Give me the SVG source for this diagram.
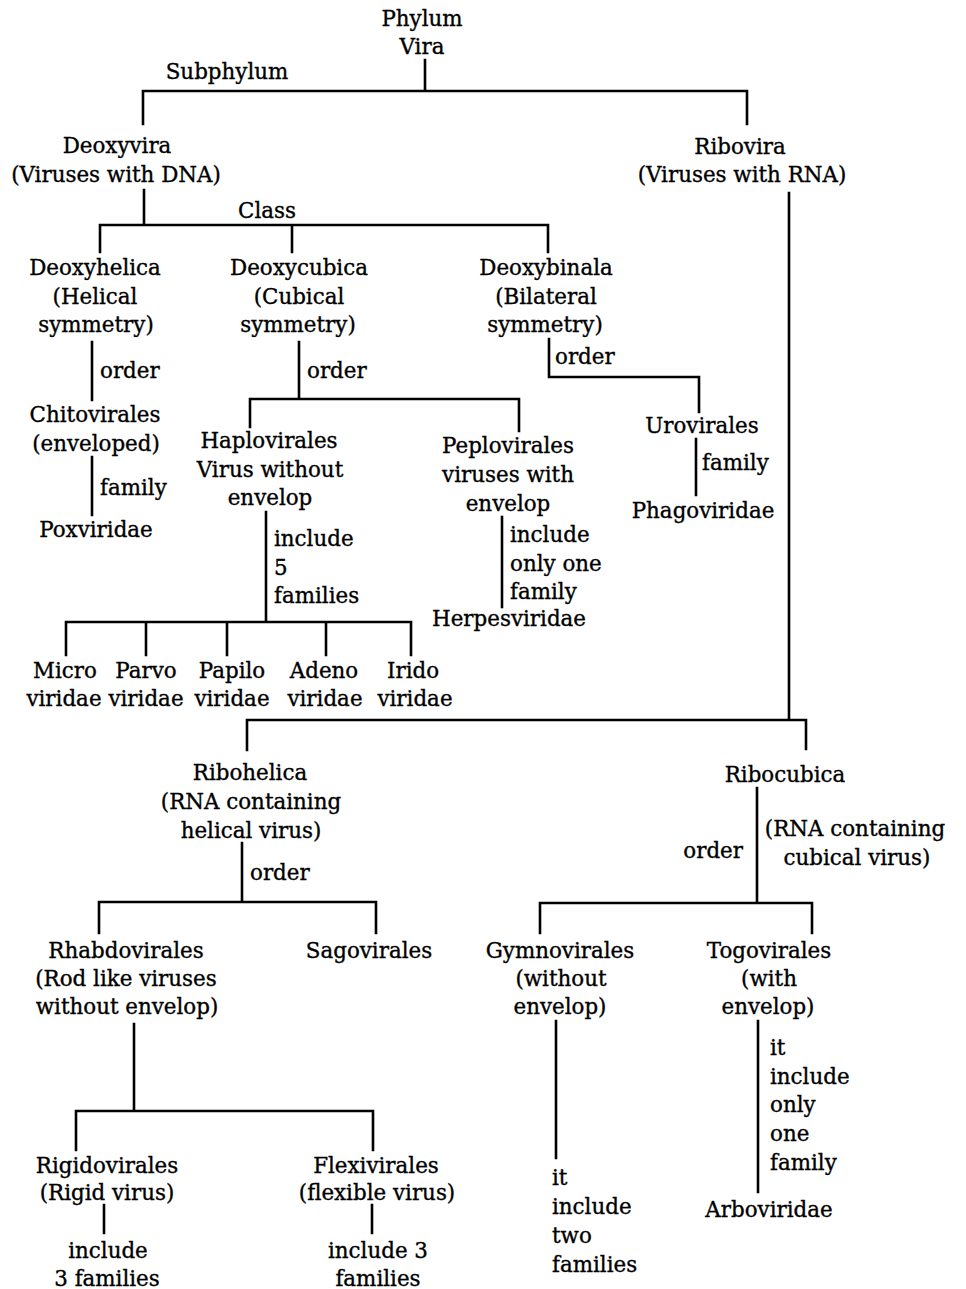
<svg xmlns="http://www.w3.org/2000/svg" width="966" height="1289" viewBox="0 0 966 1289">
<style>
text{font-family:"DejaVu Serif","Liberation Serif",serif;font-size:21.4px;fill:#000;stroke:#000;stroke-width:0.35}
.c{text-anchor:middle}
.e{text-anchor:end}
.ln{stroke:#000;stroke-width:2.6;fill:none;stroke-linecap:square}
</style>
<rect width="966" height="1289" fill="#fff"/>
<g id="connectors" class="ln">
<path d="M425 60V91M143 124V91H747V124"/>
<path d="M144 190V225M100 252V225H548V252M292 225V252"/>
<path d="M92 342V400M92 457V515"/>
<path d="M299 342V399M250 427V399H519V431"/>
<path d="M549 339V377H699V412M696 439V495"/>
<path d="M266 512V622M66 655V622H411V655M146 622V655M227 622V655M326 622V655"/>
<path d="M502 517V607"/>
<path d="M789 193V720M247 750V720H806V749"/>
<path d="M242 843V902M99 933V902H376V933"/>
<path d="M757 788V903M540 933V903H812V933"/>
<path d="M134 1024V1111M76 1150V1111H373V1150"/>
<path d="M104 1205V1233M372 1205V1233"/>
<path d="M556 1021V1158M758 1021V1192"/>
</g>
<g id="labels">
<text class="c" x="227" y="79">Subphylum</text>
<text class="c" x="267" y="218">Class</text>
<text x="100" y="378">order</text>
<text x="100" y="495">family</text>
<text x="307" y="378">order</text>
<text x="274" y="546">include</text>
<text x="274" y="575">5</text>
<text x="274" y="603">families</text>
<text x="510" y="542">include</text>
<text x="510" y="571">only one</text>
<text x="510" y="599">family</text>
<text x="555" y="364">order</text>
<text x="702" y="470">family</text>
<text x="250" y="880">order</text>
<text class="e" x="743" y="858">order</text>
<text class="c" x="855" y="836">(RNA containing</text>
<text class="c" x="857" y="865">cubical virus)</text>
<text x="552" y="1185">it</text>
<text x="552" y="1214">include</text>
<text x="552" y="1243">two</text>
<text x="552" y="1272">families</text>
<text x="770" y="1055">it</text>
<text x="770" y="1084">include</text>
<text x="770" y="1112">only</text>
<text x="770" y="1141">one</text>
<text x="770" y="1170">family</text>
<text class="c" x="108" y="1258">include</text>
<text class="c" x="107" y="1286">3 families</text>
<text class="c" x="378" y="1258">include 3</text>
<text class="c" x="378" y="1286">families</text>
</g>
<g id="phylum"><text class="c" x="422" y="26">Phylum</text><text class="c" x="422" y="54">Vira</text></g>
<g id="deoxyvira"><text class="c" x="117" y="153">Deoxyvira</text><text class="c" x="116" y="182">(Viruses with DNA)</text></g>
<g id="ribovira"><text class="c" x="740" y="154">Ribovira</text><text class="c" x="742" y="182">(Viruses with RNA)</text></g>
<g id="deoxyhelica"><text class="c" x="95" y="275">Deoxyhelica</text><text class="c" x="95" y="304">(Helical</text><text class="c" x="96" y="332">symmetry)</text></g>
<g id="chitovirales"><text class="c" x="95" y="422">Chitovirales</text><text class="c" x="96" y="451">(enveloped)</text></g>
<g id="poxviridae"><text class="c" x="96" y="537">Poxviridae</text></g>
<g id="deoxycubica"><text class="c" x="299" y="275">Deoxycubica</text><text class="c" x="299" y="304">(Cubical</text><text class="c" x="298" y="332">symmetry)</text></g>
<g id="deoxybinala"><text class="c" x="546" y="275">Deoxybinala</text><text class="c" x="546" y="304">(Bilateral</text><text class="c" x="545" y="332">symmetry)</text></g>
<g id="haplovirales"><text class="c" x="269" y="448">Haplovirales</text><text class="c" x="270" y="477">Virus without</text><text class="c" x="270" y="505">envelop</text></g>
<g id="peplovirales"><text class="c" x="508" y="453">Peplovirales</text><text class="c" x="508" y="482">viruses with</text><text class="c" x="508" y="511">envelop</text></g>
<g id="herpesviridae"><text class="c" x="509" y="626">Herpesviridae</text></g>
<g id="urovirales"><text class="c" x="702" y="433">Urovirales</text></g>
<g id="phagoviridae"><text class="c" x="703" y="518">Phagoviridae</text></g>
<g id="microviridae"><text class="c" x="65" y="678">Micro</text><text class="c" x="64" y="706">viridae</text></g>
<g id="parvoviridae"><text class="c" x="146" y="678">Parvo</text><text class="c" x="146" y="706">viridae</text></g>
<g id="papiloviridae"><text class="c" x="232" y="678">Papilo</text><text class="c" x="232" y="706">viridae</text></g>
<g id="adenoviridae"><text class="c" x="324" y="678">Adeno</text><text class="c" x="325" y="706">viridae</text></g>
<g id="iridoviridae"><text class="c" x="413" y="678">Irido</text><text class="c" x="415" y="706">viridae</text></g>
<g id="ribohelica"><text class="c" x="250" y="780">Ribohelica</text><text class="c" x="251" y="809">(RNA containing</text><text class="c" x="251" y="838">helical virus)</text></g>
<g id="ribocubica"><text class="c" x="785" y="782">Ribocubica</text></g>
<g id="rhabdovirales"><text class="c" x="126" y="958">Rhabdovirales</text><text class="c" x="126" y="986">(Rod like viruses</text><text class="c" x="127" y="1014">without envelop)</text></g>
<g id="sagovirales"><text class="c" x="369" y="958">Sagovirales</text></g>
<g id="rigidovirales"><text class="c" x="107" y="1173">Rigidovirales</text><text class="c" x="107" y="1200">(Rigid virus)</text></g>
<g id="flexivirales"><text class="c" x="376" y="1173">Flexivirales</text><text class="c" x="377" y="1200">(flexible virus)</text></g>
<g id="gymnovirales"><text class="c" x="560" y="958">Gymnovirales</text><text class="c" x="561" y="986">(without</text><text class="c" x="560" y="1014">envelop)</text></g>
<g id="togovirales"><text class="c" x="769" y="958">Togovirales</text><text class="c" x="769" y="986">(with</text><text class="c" x="768" y="1014">envelop)</text></g>
<g id="arboviridae"><text class="c" x="769" y="1217">Arboviridae</text></g>
</svg>
